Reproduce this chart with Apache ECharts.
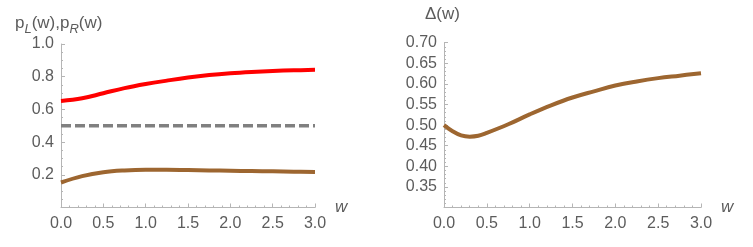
<!DOCTYPE html>
<html>
<head>
<meta charset="utf-8">
<script src="https://cdn.jsdelivr.net/npm/echarts@6/dist/echarts.min.js"></script>
<style>html,body{margin:0;padding:0;background:#fff}#c{width:753px;height:247px}</style>
</head>
<body>
<div id="c"></div>
<script>
// Left panel data
var wLeft = [0, 0.25, 0.5, 0.75, 1.0, 1.25, 1.5, 1.75, 2.0, 2.25, 2.5, 2.75, 3.0];
var pR = [0.652, 0.668, 0.699, 0.730, 0.755, 0.776, 0.795, 0.810, 0.821, 0.829, 0.835, 0.839, 0.842];
var pL = [0.153, 0.192, 0.216, 0.227, 0.231, 0.231, 0.229, 0.227, 0.225, 0.223, 0.221, 0.219, 0.217];
var wHalf = [0, 3];
var half = [0.5, 0.5];
// Right panel data
var wRight = [0, 0.1, 0.2, 0.3, 0.4, 0.5, 0.75, 1.0, 1.25, 1.5, 1.75, 2.0, 2.25, 2.5, 2.75, 3.0];
var delta = [0.500, 0.485, 0.475, 0.472, 0.474, 0.481, 0.502, 0.526, 0.548, 0.567, 0.582, 0.596, 0.606, 0.614, 0.620, 0.626];
// Tick labels
var xTicks = ['0.0', '0.5', '1.0', '1.5', '2.0', '2.5', '3.0'];

function pairs(xs, ys) { return xs.map(function (x, i) { return [x, ys[i]]; }); }

var FONT = '"Liberation Sans", Arial, sans-serif';
var LABEL = '#5c5c5c';
var AXIS = '#b5b5b5';

function xAxisCfg(idx) {
  return {
    type: 'value', gridIndex: idx, min: 0, max: 3, interval: 0.5,
    name: 'w', nameLocation: 'end', nameGap: 20,
    nameTextStyle: { fontFamily: FONT, fontSize: 17, fontStyle: 'italic', color: LABEL, padding: [6, 0, 0, 0] },
    axisLine: { show: true, lineStyle: { color: AXIS, width: 1 } },
    axisTick: { show: true, inside: true, length: 4, lineStyle: { color: AXIS } },
    minorTick: { show: true, splitNumber: 5, length: 2, lineStyle: { color: AXIS } },
    splitLine: { show: false },
    axisLabel: { fontFamily: FONT, fontSize: 16, color: LABEL, margin: 8,
      formatter: function (v) { var i = Math.round(v / 0.5); return xTicks[i] !== undefined ? xTicks[i] : ''; } }
  };
}

var option = {
  animation: false,
  grid: [
    { left: 61, right: 438, top: 44, bottom: 39.5 },
    { left: 444, right: 52, top: 42.7, bottom: 39.5 }
  ],
  xAxis: [xAxisCfg(0), xAxisCfg(1)],
  yAxis: [
    { type: 'value', gridIndex: 0, min: 0, max: 1, interval: 0.2,
      axisLine: { show: true, lineStyle: { color: AXIS, width: 1 } },
      axisTick: { show: true, inside: true, length: 4, lineStyle: { color: AXIS } },
      minorTick: { show: true, splitNumber: 4, length: 2, lineStyle: { color: AXIS } },
      splitLine: { show: false },
      axisLabel: { fontFamily: FONT, fontSize: 16, color: LABEL, margin: 7,
        formatter: function (v) { return v < 0.01 ? '' : v.toFixed(1); } } },
    { type: 'value', gridIndex: 1, min: 0.3, max: 0.7, interval: 0.05,
      axisLine: { show: true, lineStyle: { color: AXIS, width: 1 } },
      axisTick: { show: true, inside: true, length: 4, lineStyle: { color: AXIS } },
      minorTick: { show: true, splitNumber: 5, length: 2, lineStyle: { color: AXIS } },
      splitLine: { show: false },
      axisLabel: { fontFamily: FONT, fontSize: 16, color: LABEL, margin: 7,
        formatter: function (v) { return v < 0.305 ? '' : v.toFixed(2); } } }
  ],
  graphic: [
    { type: 'text', left: 15, top: 15,
      style: { text: '{a|p}{s|L}{a|(w),p}{s|R}{a|(w)}', fill: LABEL,
        rich: {
          a: { fontFamily: FONT, fontSize: 17, color: LABEL, lineHeight: 22, verticalAlign: 'top' },
          s: { fontFamily: FONT, fontSize: 13, fontStyle: 'italic', color: LABEL, lineHeight: 22, verticalAlign: 'top', padding: [8, 0, 0, 0] }
        } } },
    { type: 'text', left: 425, top: 6,
      style: { text: 'Δ(w)', fill: LABEL, font: '17px "Liberation Sans", Arial, sans-serif' } }
  ],
  series: [
    { type: 'line', xAxisIndex: 0, yAxisIndex: 0, data: pairs(wHalf, half), symbol: 'none',
      lineStyle: { color: '#808080', width: 3.5, type: [10, 4] } },
    { type: 'line', xAxisIndex: 0, yAxisIndex: 0, data: pairs(wLeft, pR), symbol: 'none', smooth: 0.4,
      lineStyle: { color: '#ff0000', width: 4 } },
    { type: 'line', xAxisIndex: 0, yAxisIndex: 0, data: pairs(wLeft, pL), symbol: 'none', smooth: 0.4,
      lineStyle: { color: '#9d6630', width: 4 } },
    { type: 'line', xAxisIndex: 1, yAxisIndex: 1, data: pairs(wRight, delta), symbol: 'none', smooth: 0.4,
      lineStyle: { color: '#9d6630', width: 4 } }
  ]
};
var chart = echarts.init(document.getElementById('c'), null, { renderer: 'canvas' });
chart.setOption(option);
</script>
</body>
</html>
